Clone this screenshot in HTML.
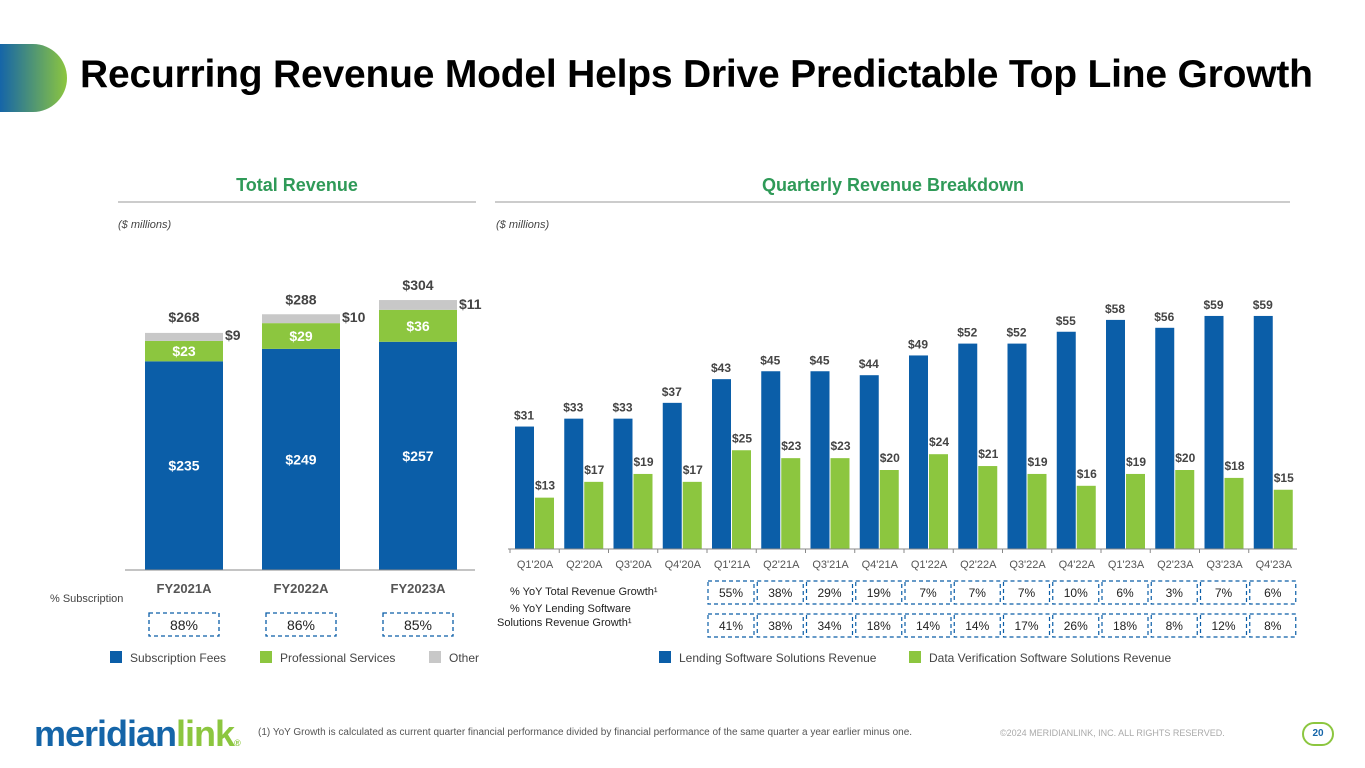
<!DOCTYPE html>
<html><head><meta charset="utf-8"><style>
body{margin:0;width:1365px;height:768px;overflow:hidden;background:#fff;font-family:"Liberation Sans",sans-serif;position:relative}
.a{position:absolute}
</style></head><body>
<div class="a" style="left:0;top:44px;width:67px;height:68px;border-radius:0 34px 34px 0;background:linear-gradient(90deg,#1565a8,#8cc63f)"></div>
<div class="a" style="left:80px;top:53px;font-size:39px;font-weight:bold;letter-spacing:-0.2px;color:#000;white-space:nowrap">Recurring Revenue Model Helps Drive Predictable Top Line Growth</div>
<svg class="a" style="left:0;top:0" width="1365" height="768">
<g id="L"></g><g id="R"></g>
</svg>
<div class="a" style="left:258px;top:727px;font-size:10px;color:#555">(1) YoY Growth is calculated as current quarter financial performance divided by financial performance of the same quarter a year earlier minus one.</div>
<div class="a" style="left:1000px;top:728px;font-size:9px;color:#aaa">©2024 MERIDIANLINK, INC. ALL RIGHTS RESERVED.</div>
<div class="a" style="left:1302px;top:722px;width:28px;height:20px;border:2px solid #8cc63f;border-radius:12px;text-align:center;font-size:10px;font-weight:bold;line-height:20px;color:#1565a8">20</div>
<div class="a" style="left:34px;top:713px;font-size:36px;font-weight:bold;letter-spacing:-1px;color:#1565a8">meridian<span style="color:#8cc63f">link</span><span style="font-size:9px;color:#8cc63f">®</span></div>
<script>
const fy=["FY2021A","FY2022A","FY2023A"];
const sub=[235,249,257];
const prof=[23,29,36];
const other=[9,10,11];
const total=[268,288,304];
const subPct=["88%","86%","85%"];
const quarters=["Q1'20A","Q2'20A","Q3'20A","Q4'20A","Q1'21A","Q2'21A","Q3'21A","Q4'21A","Q1'22A","Q2'22A","Q3'22A","Q4'22A","Q1'23A","Q2'23A","Q3'23A","Q4'23A"];
const lending=[31,33,33,37,43,45,45,44,49,52,52,55,58,56,59,59];
const dataVer=[13,17,19,17,25,23,23,20,24,21,19,16,19,20,18,15];
const yoyTotal=["55%","38%","29%","19%","7%","7%","7%","10%","6%","3%","7%","6%"];
const yoyLend=["41%","38%","34%","18%","14%","14%","17%","26%","18%","8%","12%","8%"];
const NS="http://www.w3.org/2000/svg";
const BLUE="#0b5ea8",GREEN="#8cc63f",GRAY="#c8c8c8",HEAD="#2f9a58";
function el(p,t,a,txt){const e=document.createElementNS(NS,t);for(const k in a)e.setAttribute(k,a[k]);if(txt!==undefined)e.textContent=txt;p.appendChild(e);return e;}
const L=document.getElementById('L'),R=document.getElementById('R');
let h=el(L,'text',{x:297,y:191,'text-anchor':'middle','font-size':18,'font-weight':'bold',fill:HEAD},'Total Revenue');

el(L,'line',{x1:118,x2:476,y1:202,y2:202,stroke:'#999'});
h=el(R,'text',{x:893,y:191,'text-anchor':'middle','font-size':18,'font-weight':'bold',fill:HEAD},'Quarterly Revenue Breakdown');

el(R,'line',{x1:495,x2:1290,y1:202,y2:202,stroke:'#999'});
el(L,'text',{x:118,y:228,'font-size':11,'font-style':'italic',fill:'#444'},'($ millions)');
el(R,'text',{x:496,y:228,'font-size':11,'font-style':'italic',fill:'#444'},'($ millions)');
const lBase=570,lk=0.888;const ly=v=>v*lk;
const lx=i=>145+i*117;
fy.forEach((c,i)=>{
 const x=lx(i),w=78;let y=lBase;
 let r=el(L,'rect',{x,y:y-ly(sub[i]),width:w,height:ly(sub[i]),fill:BLUE});
 el(L,'text',{x:x+w/2,y:y-ly(sub[i])/2+5,'text-anchor':'middle','font-size':14,'font-weight':'bold',fill:'#fff'},'$'+sub[i]);
 y-=ly(sub[i]);
 r=el(L,'rect',{x,y:y-ly(prof[i]),width:w,height:ly(prof[i]),fill:GREEN});
 el(L,'text',{x:x+w/2,y:y-ly(prof[i])/2+5,'text-anchor':'middle','font-size':14,'font-weight':'bold',fill:'#fff'},'$'+prof[i]);
 y-=ly(prof[i]);
 r=el(L,'rect',{x,y:y-ly(other[i]),width:w,height:ly(other[i]),fill:GRAY});
 el(L,'text',{x:x+w+2,y:y-1,'font-size':14,'font-weight':'bold',fill:'#444'},'$'+other[i]);
 el(L,'text',{x:x+w/2,y:lBase-ly(total[i])-10,'text-anchor':'middle','font-size':14,'font-weight':'bold',fill:'#444'},'$'+total[i]);
 el(L,'text',{x:x+w/2,y:593,'text-anchor':'middle','font-size':13,'font-weight':'bold',fill:'#555'},c);
 el(L,'rect',{x:x+4,y:613,width:70,height:23,fill:'none',stroke:BLUE,'stroke-dasharray':'4,3','stroke-width':1.3});
 el(L,'text',{x:x+w/2,y:630,'text-anchor':'middle','font-size':14,fill:'#222'},subPct[i]);
});
el(L,'line',{x1:125,x2:475,y1:lBase,y2:lBase,stroke:'#888'});
el(L,'text',{x:50,y:602,'font-size':11,fill:'#444'},'% Subscription');
const rBase=549,rk=3.95,step=49.25;const gx=i=>515+i*step;
quarters.forEach((q,i)=>{
 const x=gx(i);
 let r=el(R,'rect',{x,y:rBase-lending[i]*rk,width:19,height:lending[i]*rk,fill:BLUE});
 el(R,'text',{x:x+9,y:rBase-lending[i]*rk-7,'text-anchor':'middle','font-size':12,'font-weight':'bold',fill:'#444'},'$'+lending[i]);
 r=el(R,'rect',{x:x+20,y:rBase-dataVer[i]*rk,width:19,height:dataVer[i]*rk,fill:GREEN});
 el(R,'text',{x:x+30,y:rBase-dataVer[i]*rk-8,'text-anchor':'middle','font-size':12,'font-weight':'bold',fill:'#444'},'$'+dataVer[i]);
 el(R,'text',{x:x+20,y:568,'text-anchor':'middle','font-size':11,fill:'#555'},q);
 el(R,'line',{x1:x-5,x2:x-5,y1:rBase,y2:rBase+4,stroke:'#888'});
});
el(R,'line',{x1:508,x2:1297,y1:rBase,y2:rBase,stroke:'#888'});
el(R,'text',{x:510,y:595,'font-size':11,fill:'#222'},'% YoY Total Revenue Growth¹');
el(R,'text',{x:510,y:612,'font-size':11,fill:'#222'},'% YoY Lending Software');
el(R,'text',{x:497,y:626,'font-size':11,fill:'#222'},'Solutions Revenue Growth¹');
yoyTotal.forEach((v,j)=>{
 const x=gx(j+4)-4;
 el(R,'rect',{x,y:581,width:46,height:23,fill:'none',stroke:BLUE,'stroke-dasharray':'4,3','stroke-width':1.2});
 el(R,'text',{x:x+23,y:597,'text-anchor':'middle','font-size':12,fill:'#222'},v);
 el(R,'rect',{x,y:614,width:46,height:23,fill:'none',stroke:BLUE,'stroke-dasharray':'4,3','stroke-width':1.2});
 el(R,'text',{x:x+23,y:630,'text-anchor':'middle','font-size':12,fill:'#222'},yoyLend[j]);
});
function leg(p,x,c,t,n){const g=el(p,'g',{});el(g,'rect',{x,y:651,width:12,height:12,fill:c});el(g,'text',{x:x+20,y:662,'font-size':12,fill:'#444'},t);}
leg(L,110,BLUE,'Subscription Fees','legend-subscription');
leg(L,260,GREEN,'Professional Services','legend-professional');
leg(L,429,GRAY,'Other','legend-other');
leg(R,659,BLUE,'Lending Software Solutions Revenue','legend-lending');
leg(R,909,GREEN,'Data Verification Software Solutions Revenue','legend-dataver');
</script>
</body></html>
